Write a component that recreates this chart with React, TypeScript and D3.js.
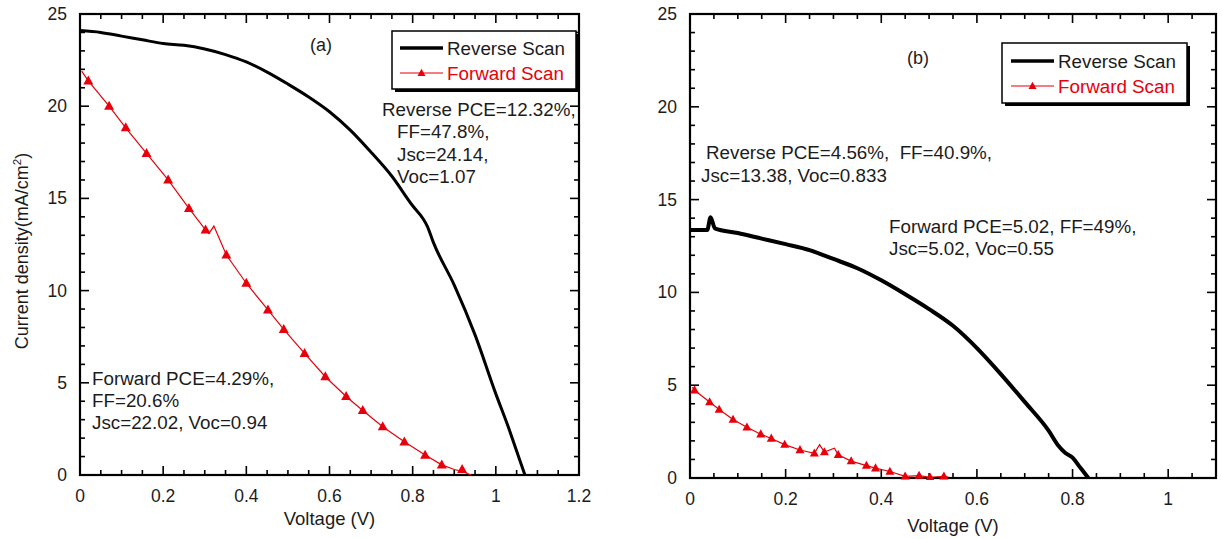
import React from "react";
import * as d3 from "d3";

// ---------- data ----------
// Panel (a)
const revA_V = [0, 0.05, 0.1, 0.15, 0.2, 0.25, 0.3, 0.35, 0.4, 0.45, 0.5, 0.55, 0.6, 0.65, 0.7, 0.75, 0.8, 0.825, 0.835, 0.85, 0.9, 0.95, 1.0, 1.03, 1.05, 1.07];
const revA_J = [24.1, 24.0, 23.8, 23.6, 23.4, 23.3, 23.1, 22.8, 22.4, 21.85, 21.2, 20.5, 19.7, 18.7, 17.5, 16.2, 14.6, 13.9, 13.5, 12.6, 10.3, 7.6, 4.4, 2.6, 1.3, 0];

const fwdA_lineV = [0.004, 0.02, 0.07, 0.11, 0.16, 0.212, 0.262, 0.302, 0.31, 0.322, 0.352, 0.4, 0.452, 0.49, 0.54, 0.59, 0.64, 0.68, 0.728, 0.78, 0.83, 0.87, 0.9, 0.919, 0.94];
const fwdA_lineJ = [21.9, 21.37, 20.0, 18.83, 17.44, 16.0, 14.46, 13.29, 13.1, 13.5, 11.93, 10.4, 8.95, 7.9, 6.6, 5.33, 4.26, 3.5, 2.62, 1.8, 1.08, 0.55, 0.3, 0.2, 0];
const fwdA_markV = [0.02, 0.07, 0.11, 0.16, 0.212, 0.262, 0.302, 0.352, 0.4, 0.452, 0.49, 0.54, 0.59, 0.64, 0.68, 0.728, 0.78, 0.83, 0.87, 0.919];
const fwdA_markJ = [21.37, 20.0, 18.83, 17.44, 16.0, 14.46, 13.29, 11.93, 10.4, 8.95, 7.9, 6.6, 5.33, 4.26, 3.5, 2.62, 1.8, 1.08, 0.55, 0.3];

// Panel (b)
const revB_V = [0, 0.036, 0.043, 0.052, 0.1, 0.15, 0.2, 0.25, 0.3, 0.35, 0.4, 0.45, 0.5, 0.55, 0.6, 0.65, 0.7, 0.75, 0.77, 0.785, 0.8, 0.815, 0.833];
const revB_J = [13.36, 13.36, 14.05, 13.45, 13.2, 12.9, 12.6, 12.28, 11.8, 11.3, 10.65, 9.9, 9.1, 8.2, 7.0, 5.6, 4.1, 2.55, 1.75, 1.35, 1.1, 0.6, 0];

const fwdB_lineV = [0.005, 0.0095, 0.041, 0.061, 0.09, 0.119, 0.148, 0.17, 0.198, 0.23, 0.26, 0.271, 0.281, 0.302, 0.31, 0.337, 0.369, 0.388, 0.418, 0.45, 0.479, 0.502, 0.531, 0.54];
const fwdB_lineJ = [4.9, 4.73, 4.09, 3.69, 3.15, 2.73, 2.36, 2.13, 1.8, 1.51, 1.33, 1.8, 1.4, 1.6, 1.25, 0.91, 0.67, 0.53, 0.35, 0.09, 0.13, 0.04, 0.09, 0.05];
const fwdB_markV = [0.0095, 0.041, 0.061, 0.09, 0.119, 0.148, 0.17, 0.198, 0.23, 0.26, 0.281, 0.31, 0.337, 0.369, 0.388, 0.418, 0.45, 0.479, 0.502, 0.531];
const fwdB_markJ = [4.73, 4.09, 3.69, 3.15, 2.73, 2.36, 2.13, 1.8, 1.51, 1.33, 1.4, 1.25, 0.91, 0.67, 0.53, 0.35, 0.09, 0.13, 0.04, 0.09];

// ticks
const xTicksA = [0, 0.2, 0.4, 0.6, 0.8, 1, 1.2];
const xTickLabelsA = ["0", "0.2", "0.4", "0.6", "0.8", "1", "1.2"];
const xTicksB = [0, 0.2, 0.4, 0.6, 0.8, 1];
const xTickLabelsB = ["0", "0.2", "0.4", "0.6", "0.8", "1"];
const yTicks = [0, 5, 10, 15, 20, 25];
const yTickLabels = ["0", "5", "10", "15", "20", "25"];

const legendLabels = ["Reverse Scan", "Forward Scan"];
const annA = ["Reverse PCE=12.32%,", "FF=47.8%,", "Jsc=24.14,", "Voc=1.07"];
const annA2 = ["Forward PCE=4.29%,", "FF=20.6%", "Jsc=22.02, Voc=0.94"];
const annB = ["Reverse PCE=4.56%,  FF=40.9%,", "Jsc=13.38, Voc=0.833"];
const annB2 = ["Forward PCE=5.02, FF=49%,", "Jsc=5.02, Voc=0.55"];

const FONT = "'Liberation Sans', Arial, sans-serif";
const RED = "#e8000b";
const TXT = "#1c1c1c";
const FS = 18.8;

function tri(cx: number, cy: number, s: number) {
  const h = s * 0.9;
  return `M${cx},${cy - h * 0.6}L${cx + s / 2},${cy + h * 0.4}L${cx - s / 2},${cy + h * 0.4}Z`;
}

type PanelProps = {
  left: number; right: number; top: number; bottom: number; xMax: number;
  xTicks: number[]; xLabels: string[];
  revV: number[]; revJ: number[]; revW: number;
  fLineV: number[]; fLineJ: number[]; fMarkV: number[]; fMarkJ: number[]; markS: number;
  xLabelY: number; xTickY: number;
};

function Panel(p: PanelProps) {
  const x = d3.scaleLinear().domain([0, p.xMax]).range([p.left, p.right]);
  const y = d3.scaleLinear().domain([0, 25]).range([p.bottom, p.top]);
  const line = d3.line<[number, number]>().x(d => x(d[0])).y(d => y(d[1]));
  const rev = p.revV.map((v, i) => [v, p.revJ[i]] as [number, number]);
  const fwd = p.fLineV.map((v, i) => [v, p.fLineJ[i]] as [number, number]);
  const minorX = d3.range(0, p.xMax + 1e-6, 0.05);
  const minorY = d3.range(0, 25.001, 1);
  const isMajX = (v: number) => p.xTicks.some(t => Math.abs(t - v) < 1e-6);
  const isMajY = (v: number) => yTicks.some(t => Math.abs(t - v) < 1e-6);
  return (
    <g>
      <defs>
        <clipPath id={`clip${p.left}`}>
          <rect x={p.left} y={p.top} width={p.right - p.left} height={p.bottom - p.top + 2} />
        </clipPath>
      </defs>
      {minorX.map((v, i) => {
        const L = isMajX(v) ? 9 : 5;
        return (
          <g key={"x" + i} stroke="#000" strokeWidth={1.6}>
            <line x1={x(v)} x2={x(v)} y1={p.bottom} y2={p.bottom - L} />
            <line x1={x(v)} x2={x(v)} y1={p.top} y2={p.top + L} />
          </g>
        );
      })}
      {minorY.map((v, i) => {
        const L = isMajY(v) ? 9 : 5;
        return (
          <g key={"y" + i} stroke="#000" strokeWidth={1.6}>
            <line x1={p.left} x2={p.left + L} y1={y(v)} y2={y(v)} />
            <line x1={p.right} x2={p.right - L} y1={y(v)} y2={y(v)} />
          </g>
        );
      })}
      <rect x={p.left} y={p.top} width={p.right - p.left} height={p.bottom - p.top} fill="none" stroke="#000" strokeWidth={2.2} />
      {p.xTicks.map((v, i) => (
        <text key={"xl" + i} x={x(v)} y={p.xTickY} textAnchor="middle" fontSize={17.5} fontFamily={FONT} fill={TXT}>{p.xLabels[i]}</text>
      ))}
      {yTicks.map((v, i) => (
        <text key={"yl" + i} x={p.left - 13} y={y(v) + 6} textAnchor="end" fontSize={17.5} fontFamily={FONT} fill={TXT}>{yTickLabels[i]}</text>
      ))}
      <text x={(p.left + p.right) / 2} y={p.xLabelY} textAnchor="middle" fontSize={18.5} fontFamily={FONT} fill={TXT}>Voltage (V)</text>
      <g clipPath={`url(#clip${p.left})`}>
        <path d={line(fwd) || ""} fill="none" stroke={RED} strokeWidth={1.2} />
        {p.fMarkV.map((v, i) => (
          <path key={"m" + i} d={tri(x(v), y(p.fMarkJ[i]), p.markS)} fill={RED} />
        ))}
        <path d={line.curve(d3.curveMonotoneX)(rev) || ""} fill="none" stroke="#000" strokeWidth={p.revW} strokeLinejoin="round" />
      </g>
    </g>
  );
}

function Legend({ x0, y0, w, h, lx1, lx2, tx, y1, y2 }: { x0: number; y0: number; w: number; h: number; lx1: number; lx2: number; tx: number; y1: number; y2: number }) {
  return (
    <g>
      <rect x={x0 + 3} y={y0 + 3} width={w} height={h} fill="#000" />
      <rect x={x0} y={y0} width={w} height={h} fill="#fff" stroke="#000" strokeWidth={1.5} />
      <line x1={lx1} x2={lx2} y1={y1} y2={y1} stroke="#000" strokeWidth={3.5} />
      <text x={tx} y={y1 + 6.5} fontSize={FS} fontFamily={FONT} fill={TXT}>{legendLabels[0]}</text>
      <line x1={lx1} x2={lx2} y1={y2} y2={y2} stroke={RED} strokeWidth={1.2} />
      <path d={tri((lx1 + lx2) / 2, y2, 8)} fill={RED} />
      <text x={tx} y={y2 + 6.5} fontSize={FS} fontFamily={FONT} fill={RED}>{legendLabels[1]}</text>
    </g>
  );
}

function Lines({ x, ys, lines, xs }: { x: number; ys: number[]; lines: string[]; xs?: number[] }) {
  return (
    <g>
      {lines.map((s, i) => (
        <text key={i} x={xs ? xs[i] : x} y={ys[i]} fontSize={FS} fontFamily={FONT} fill={TXT} style={{ whiteSpace: "pre" }}>{s}</text>
      ))}
    </g>
  );
}

export default function App() {
  return (
    <svg width={1222} height={539} style={{ position: "absolute", left: 0, top: 0, background: "#fff" }} xmlns="http://www.w3.org/2000/svg">
      <rect x={0} y={0} width={1222} height={539} fill="#fff" />
      <Panel left={80} right={579} top={14} bottom={475} xMax={1.2} xTicks={xTicksA} xLabels={xTickLabelsA}
        revV={revA_V} revJ={revA_J} revW={3}
        fLineV={fwdA_lineV} fLineJ={fwdA_lineJ} fMarkV={fwdA_markV} fMarkJ={fwdA_markJ} markS={10}
        xTickY={502} xLabelY={525} />
      <Panel left={690} right={1216} top={14} bottom={478} xMax={1.1} xTicks={xTicksB} xLabels={xTickLabelsB}
        revV={revB_V} revJ={revB_J} revW={4}
        fLineV={fwdB_lineV} fLineJ={fwdB_lineJ} fMarkV={fwdB_markV} fMarkJ={fwdB_markJ} markS={9}
        xTickY={505} xLabelY={532} />
      <text transform="translate(28,251) rotate(-90)" textAnchor="middle" fontSize={18} fontFamily={FONT} fill={TXT}>
        Current density(mA/cm<tspan fontSize={11.5} dy={-7}>2</tspan><tspan dy={7}>)</tspan>
      </text>
      <text x={310} y={51} fontSize={18} fontFamily={FONT} fill={TXT}>(a)</text>
      <text x={907} y={64} fontSize={18} fontFamily={FONT} fill={TXT}>(b)</text>
      <Legend x0={392} y0={31} w={184} h={58} lx1={400} lx2={443} tx={447} y1={48} y2={73} />
      <Legend x0={1002} y0={43} w={185} h={60} lx1={1011} lx2={1054} tx={1058} y1={61} y2={86} />
      <Lines x={382} xs={[382, 397, 397, 397]} ys={[116, 138, 161, 183]} lines={annA} />
      <Lines x={92} ys={[385, 407, 429]} lines={annA2} />
      <Lines x={706} xs={[706, 701]} ys={[159, 182]} lines={annB} />
      <Lines x={889} ys={[233, 255]} lines={annB2} />
    </svg>
  );
}
